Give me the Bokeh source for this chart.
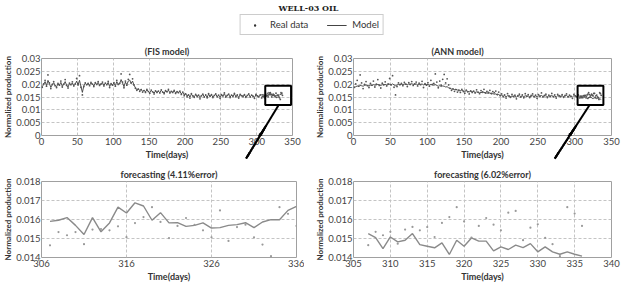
from bokeh.plotting import figure
from bokeh.layouts import column, row
from bokeh.models import (Range1d, FixedTicker, NumeralTickFormatter, Legend, ColumnDataSource,
                          LegendItem, BoxAnnotation, Arrow, NormalHead)
from bokeh.embed import file_html
from bokeh.resources import INLINE

# ---------------- data ----------------
chart_title = "WELL-03 OIL"
top_titles = ["(FIS model)", "(ANN model)"]
bottom_titles = ["forecasting (4.11%error)", "forecasting (6.02%error)"]
legend_labels = ["Real data", "Model"]

hist_days = list(range(1, 306, 2))
hist_real = [
    0.0188, 0.0201, 0.0215, 0.0192, 0.0236, 0.0205, 0.0183, 0.0199, 0.0210, 0.0194, 0.0187,
    0.0203, 0.0196, 0.0212, 0.0189, 0.0200, 0.0218, 0.0195, 0.0185, 0.0204, 0.0198,
    0.0209, 0.0193, 0.0201, 0.0222, 0.0197, 0.0233, 0.0188, 0.0158, 0.0191, 0.0205,
    0.0198, 0.0203, 0.0194, 0.0207, 0.0200, 0.0191, 0.0206, 0.0199, 0.0210, 0.0195,
    0.0201, 0.0208, 0.0193, 0.0204, 0.0198, 0.0211, 0.0187, 0.0202, 0.0196, 0.0206,
    0.0192, 0.0215, 0.0199, 0.0203, 0.0240, 0.0208, 0.0186, 0.0212, 0.0196, 0.0219,
    0.0238, 0.0205, 0.0221, 0.0197, 0.0184, 0.0176, 0.0181, 0.0172, 0.0179, 0.0169,
    0.0175, 0.0168, 0.0180, 0.0171, 0.0165, 0.0177, 0.0170, 0.0162, 0.0174, 0.0168,
    0.0173, 0.0166, 0.0178, 0.0169, 0.0163, 0.0175, 0.0170, 0.0180, 0.0166, 0.0172,
    0.0168, 0.0176, 0.0164, 0.0171, 0.0167, 0.0173, 0.0160, 0.0169, 0.0155, 0.0162,
    0.0151, 0.0158, 0.0146, 0.0163, 0.0154, 0.0149, 0.0160, 0.0152, 0.0157, 0.0143,
    0.0155, 0.0161, 0.0150, 0.0158, 0.0147, 0.0163, 0.0153, 0.0159, 0.0148, 0.0156,
    0.0162, 0.0151, 0.0157, 0.0145, 0.0159, 0.0154, 0.0166, 0.0150, 0.0156, 0.0161,
    0.0148, 0.0157, 0.0153, 0.0164, 0.0151, 0.0158, 0.0146, 0.0160, 0.0155, 0.0152,
    0.0159, 0.0149, 0.0156, 0.0162, 0.0150, 0.0157, 0.0153, 0.0145, 0.0160, 0.0154,
    0.0151, 0.0158,
]
hist_fis = [
    0.0190, 0.0199, 0.0210, 0.0194, 0.0215, 0.0203, 0.0187, 0.0198, 0.0206, 0.0195, 0.0190,
    0.0201, 0.0196, 0.0207, 0.0192, 0.0199, 0.0210, 0.0196, 0.0189, 0.0202, 0.0198,
    0.0205, 0.0194, 0.0200, 0.0212, 0.0197, 0.0215, 0.0191, 0.0168, 0.0193, 0.0203,
    0.0198, 0.0202, 0.0195, 0.0205, 0.0200, 0.0193, 0.0204, 0.0199, 0.0207, 0.0196,
    0.0200, 0.0205, 0.0195, 0.0203, 0.0198, 0.0207, 0.0191, 0.0201, 0.0197, 0.0204,
    0.0194, 0.0210, 0.0199, 0.0202, 0.0218, 0.0205, 0.0190, 0.0208, 0.0198, 0.0212,
    0.0216, 0.0203, 0.0212, 0.0196, 0.0186, 0.0178, 0.0182, 0.0175, 0.0179, 0.0172,
    0.0176, 0.0170, 0.0178, 0.0172, 0.0167, 0.0175, 0.0171, 0.0165, 0.0173, 0.0169,
    0.0172, 0.0167, 0.0176, 0.0170, 0.0165, 0.0174, 0.0170, 0.0177, 0.0167, 0.0171,
    0.0169, 0.0174, 0.0166, 0.0170, 0.0168, 0.0172, 0.0162, 0.0168, 0.0158, 0.0163,
    0.0154, 0.0159, 0.0149, 0.0161, 0.0155, 0.0151, 0.0159, 0.0153, 0.0157, 0.0147,
    0.0155, 0.0160, 0.0151, 0.0157, 0.0149, 0.0161, 0.0153, 0.0158, 0.0150, 0.0156,
    0.0160, 0.0152, 0.0156, 0.0148, 0.0158, 0.0154, 0.0163, 0.0151, 0.0156, 0.0160,
    0.0150, 0.0157, 0.0153, 0.0162, 0.0152, 0.0157, 0.0148, 0.0159, 0.0155, 0.0153,
    0.0158, 0.0150, 0.0156, 0.0160, 0.0151, 0.0157, 0.0153, 0.0148, 0.0159, 0.0154,
    0.0152, 0.0157,
]
hist_ann = [
    0.0186, 0.0190, 0.0193, 0.0191, 0.0195, 0.0194, 0.0192, 0.0195, 0.0197, 0.0195, 0.0193,
    0.0196, 0.0195, 0.0198, 0.0196, 0.0197, 0.0199, 0.0197, 0.0195, 0.0198, 0.0197,
    0.0199, 0.0197, 0.0198, 0.0200, 0.0198, 0.0201, 0.0197, 0.0194, 0.0197, 0.0199,
    0.0198, 0.0200, 0.0198, 0.0201, 0.0200, 0.0198, 0.0201, 0.0199, 0.0202, 0.0199,
    0.0200, 0.0201, 0.0198, 0.0200, 0.0199, 0.0201, 0.0197, 0.0199, 0.0198, 0.0199,
    0.0196, 0.0199, 0.0197, 0.0196, 0.0198, 0.0195, 0.0192, 0.0194, 0.0191, 0.0193,
    0.0192, 0.0189, 0.0190, 0.0186, 0.0184, 0.0181, 0.0182, 0.0179, 0.0180, 0.0177,
    0.0178, 0.0175, 0.0177, 0.0174, 0.0172, 0.0174, 0.0172, 0.0170, 0.0172, 0.0170,
    0.0171, 0.0168, 0.0170, 0.0168, 0.0166, 0.0168, 0.0167, 0.0169, 0.0165, 0.0166,
    0.0164, 0.0166, 0.0162, 0.0163, 0.0161, 0.0162, 0.0158, 0.0160, 0.0155, 0.0157,
    0.0153, 0.0155, 0.0151, 0.0155, 0.0153, 0.0151, 0.0154, 0.0152, 0.0154, 0.0150,
    0.0153, 0.0155, 0.0152, 0.0154, 0.0151, 0.0155, 0.0152, 0.0154, 0.0151, 0.0153,
    0.0155, 0.0152, 0.0154, 0.0150, 0.0154, 0.0152, 0.0156, 0.0152, 0.0154, 0.0155,
    0.0151, 0.0154, 0.0152, 0.0156, 0.0152, 0.0154, 0.0150, 0.0155, 0.0153, 0.0152,
    0.0155, 0.0151, 0.0154, 0.0156, 0.0151, 0.0154, 0.0152, 0.0150, 0.0155, 0.0153,
    0.0151, 0.0154,
]

fc_days = list(range(307, 337))
fc_real_fis = [
    0.01464, 0.01534, 0.01517, 0.01534, 0.01470, 0.01547, 0.01550, 0.01543, 0.01564, 0.01507,
    0.01581, 0.01613, 0.01665, 0.01587, 0.01502, 0.01566, 0.01608, 0.01572, 0.01543, 0.01506,
    0.01648, 0.01487, 0.01560, 0.01573, 0.01506, 0.01468, 0.01407, 0.01665, 0.01630, 0.01566,
]
fc_fis = [
    0.01590, 0.01596, 0.01610, 0.01569, 0.01521, 0.01610, 0.01535, 0.01582, 0.01665, 0.01634,
    0.01688, 0.01671, 0.01596, 0.01636, 0.01582, 0.01583, 0.01564, 0.01569, 0.01582, 0.01555,
    0.01557, 0.01569, 0.01573, 0.01583, 0.01557, 0.01587, 0.01599, 0.01599, 0.01648, 0.01669,
]
fc_real_ann = [
    0.01465, 0.01535, 0.01517, 0.01535, 0.01473, 0.01547, 0.01561, 0.01543, 0.01560, 0.01508,
    0.01582, 0.01613, 0.01665, 0.01590, 0.01505, 0.01566, 0.01608, 0.01573, 0.01543, 0.01636,
    0.01645, 0.01491, 0.01557, 0.01575, 0.01503, 0.01470, 0.01407, 0.01665, 0.01631, 0.01566,
]
fc_ann = [
    0.01526, 0.01505, 0.01447, 0.01508, 0.01482, 0.01491, 0.01526, 0.01468, 0.01459, 0.01451,
    0.01477, 0.01416, 0.01491, 0.01459, 0.01503, 0.01486, 0.01486, 0.01435, 0.01456, 0.01442,
    0.01465, 0.01452, 0.01473, 0.01430, 0.01456, 0.01430, 0.01417, 0.01430, 0.01417, 0.01407,
]

top_xticks = [0, 50, 100, 150, 200, 250, 300, 350]
top_yticks = [0, 0.005, 0.01, 0.015, 0.02, 0.025, 0.03]
bl_xticks = [306, 316, 326, 336]
br_xticks = [305, 310, 315, 320, 325, 330, 335, 340]
bot_yticks = [0.014, 0.015, 0.016, 0.017, 0.018]

# ---------------- layout constants (page has no margin) ----------------
FONT = "Lato"
GRID = "#c4c4c4"
LW, RW = 304, 319
LB = (38, 49)
HDR_H = 38
TOP_H, TOP_T, TOP_B = 124, 20, 27
BOT_H, BOT_T, BOT_B = 122, 19, 27


def style(p, xticks, yticks, yfmt):
    p.xaxis.ticker = FixedTicker(ticks=xticks)
    p.yaxis.ticker = FixedTicker(ticks=yticks)
    p.yaxis.formatter = NumeralTickFormatter(format=yfmt)
    for ax in p.xaxis + p.yaxis:
        ax.axis_line_color = None
        ax.major_tick_line_color = None
        ax.minor_tick_line_color = None
        ax.major_tick_out = 0
        ax.major_tick_in = 0
        ax.minor_tick_out = 0
        ax.minor_tick_in = 0
        ax.major_label_text_font = FONT
        ax.major_label_text_font_size = "9.5px"
        ax.major_label_text_color = "#444444"
        ax.axis_label_text_font = FONT
        ax.axis_label_text_font_style = "bold"
        ax.axis_label_text_color = "#333333"
        ax.major_label_standoff = 2
        ax.axis_label_standoff = 1
    p.yaxis.major_label_standoff = 1
    p.yaxis.axis_label_standoff = 0
    p.xaxis.axis_label = "Time(days)"
    p.yaxis.axis_label = "Normalized production"
    p.xaxis.axis_label_text_font_size = "9px"
    p.yaxis.axis_label_text_font_size = "8px"
    p.grid.grid_line_color = GRID
    p.grid.grid_line_dash = "3 2"
    p.grid.grid_line_width = 1
    p.outline_line_color = "#a0a0a0"
    p.outline_line_width = 1


def make_fig(w, h, xr, yr, left, right, top, bottom):
    return figure(width=w, height=h, x_range=xr, y_range=yr, output_backend="svg",
                  toolbar_location=None, min_border_left=left, min_border_right=right,
                  min_border_top=top, min_border_bottom=bottom)


def set_title(p, text, align="center", offset=0):
    p.title.text = text
    p.title.align = align
    p.title.offset = offset
    p.title.standoff = 3
    p.title.text_font = FONT
    p.title.text_font_size = "9px"
    p.title.text_font_style = "bold"
    p.title.text_color = "#333333"


# ---------------- header (title + legend) ----------------
hdr = figure(width=LW + RW, height=HDR_H, x_range=Range1d(0, 1), y_range=Range1d(0, 1),
             output_backend="svg", toolbar_location=None, min_border=0, min_border_top=10)
hdr.axis.visible = False
hdr.grid.visible = False
hdr.outline_line_color = None
hdr.title.text = chart_title
hdr.title.align = "left"
hdr.title.offset = 278
hdr.title.standoff = 0
hdr.title.text_font = "DejaVu Serif"
hdr.title.text_font_style = "bold"
hdr.title.text_font_size = "8px"
hdr.title.text_color = "#222222"
r_dot = hdr.scatter([-5], [-5], size=2, fill_color="#333333", line_color=None)
r_line = hdr.line([-5, -4], [-5, -5], line_color="#444444", line_width=1)
leg = Legend(items=[LegendItem(label=legend_labels[0], renderers=[r_dot]),
                    LegendItem(label=legend_labels[1], renderers=[r_line])],
             location="bottom_center", margin=3, orientation="horizontal", glyph_width=20,
             glyph_height=6, label_height=10, label_standoff=6, spacing=18, padding=4,
             label_text_font=FONT, label_text_font_size="9.5px", label_text_color="#333333",
             border_line_color="#999999", border_line_width=1, background_fill_alpha=1)
hdr.add_layout(leg)

# ---------------- top panels ----------------
panels_top = []
specs = [(hist_fis, fc_real_fis, fc_fis, (312, 348), (330.7, 285.3), "center", 0),
         (hist_ann, fc_real_ann, fc_ann, (304, 339), (320.3, 273.0), "left", 78)]
for i, (model_hist, fc_real, fc_model, bx, arr, talign, toff) in enumerate(specs):
    w = LW if i == 0 else RW
    rb = 12
    p = make_fig(w, TOP_H, Range1d(0, 350), Range1d(0, 0.03), LB[i], rb, TOP_T, TOP_B)
    style(p, top_xticks, top_yticks, "0.[000]")
    set_title(p, top_titles[i], talign, toff)
    p.line(hist_days + fc_days, model_hist + fc_model, line_color="#3c3c3c", line_width=0.9)
    p.scatter(hist_days + fc_days, hist_real + fc_real, size=1.8, fill_color="#555555",
              line_color=None)
    # zoom box
    p.add_layout(BoxAnnotation(left=bx[0], right=bx[1], bottom=0.0119, top=0.0194,
                               fill_alpha=0, line_color="black", line_alpha=1, line_width=2))
    # arrow: body inside the frame, head below it
    y0, y1 = 0.0119, -0.009
    p.add_layout(Arrow(end=NormalHead(size=7, fill_color="black", line_color="black"),
                       x_start=arr[0], y_start=y0, x_end=arr[1], y_end=y1,
                       line_color="black", line_width=2))
    # continuation of the body below the frame: a chain of small heads
    t0 = y0 / (y0 - y1)
    bxx = arr[0] + t0 * (arr[1] - arr[0])
    n = 14
    ex = [bxx + (arr[1] - bxx) * k / n for k in range(1, n + 1)]
    ey = [y1 * k / n for k in range(1, n + 1)]
    sxs = [x - (arr[1] - bxx) * 0.5 for x in ex]
    sys_ = [y - y1 * 0.5 for y in ey]
    src = ColumnDataSource(data=dict(xs=sxs, ys=sys_, xe=ex, ye=ey))
    p.add_layout(Arrow(end=NormalHead(size=3.4, fill_color="black", line_color="black",
                                      line_width=0.6),
                       x_start="xs", y_start="ys", x_end="xe", y_end="ye", source=src,
                       line_color="black", line_width=2))
    panels_top.append(p)

# ---------------- bottom panels ----------------
panels_bot = []
for i, (real, model, xr, xt) in enumerate([(fc_real_fis, fc_fis, (306, 336), bl_xticks),
                                           (fc_real_ann, fc_ann, (305, 340), br_xticks)]):
    w = LW if i == 0 else RW
    rb = 8 if i == 0 else 12
    p = make_fig(w, BOT_H, Range1d(*xr), Range1d(0.014, 0.018), LB[i], rb, BOT_T, BOT_B)
    style(p, xt, bot_yticks, "0.000")
    set_title(p, bottom_titles[i])
    p.line(fc_days, model, line_color="#8a8a8a", line_width=1.4)
    p.scatter(fc_days, real, size=2.2, fill_color="#999999", line_color=None)
    panels_bot.append(p)

layout = column(hdr, row(*panels_top), row(*panels_bot))
open("out.html", "w").write(file_html(layout, INLINE))
